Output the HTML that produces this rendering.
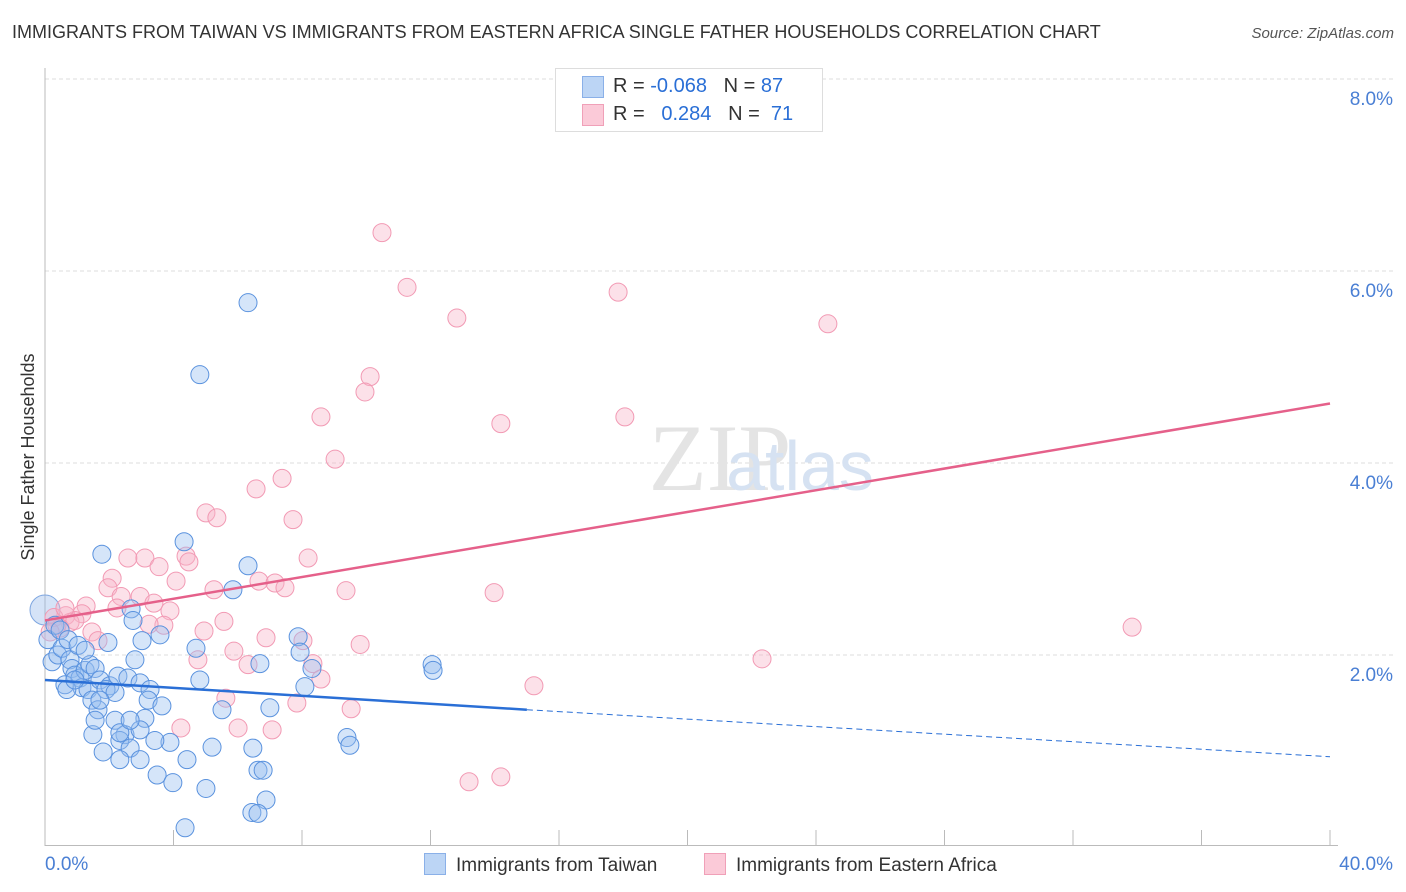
<!DOCTYPE html>
<html><head><meta charset="utf-8"><style>
body{margin:0;background:#fff;font-family:"Liberation Sans",sans-serif;}
#wrap{position:relative;width:1406px;height:892px;overflow:hidden}
.t{position:absolute;white-space:nowrap}
</style></head><body><div id="wrap">
<div class="t" style="left:12px;top:22px;font-size:18px;color:#333">IMMIGRANTS FROM TAIWAN VS IMMIGRANTS FROM EASTERN AFRICA SINGLE FATHER HOUSEHOLDS CORRELATION CHART</div>
<div class="t" style="right:12px;top:25px;font-size:15px;color:#555;font-style:italic">Source: ZipAtlas.com</div>
<svg id="svg" width="1406" height="892" style="position:absolute;left:0;top:0"></svg>
</div>
<script>
const xTicks=[0,40];
const yTicks=[2,4,6,8];
const taiwanX=[],taiwanY=[],eafX=[],eafY=[];
const taiwanPx=[[248,303],[200,375],[184,542],[102,554],[248,566],[233,590],[131,609],[133,620],[160,635],[142,641],[108,643],[196,648],[298,637],[300,652],[260,664],[48,640],[52,662],[58,655],[62,648],[70,660],[72,668],[75,675],[65,685],[80,678],[85,670],[90,665],[95,668],[82,688],[88,690],[100,680],[110,686],[118,676],[128,678],[140,683],[150,690],[106,690],[92,700],[98,710],[115,720],[125,735],[120,740],[130,748],[145,718],[148,700],[162,706],[222,710],[270,708],[305,687],[312,668],[432,665],[433,670],[140,760],[120,760],[103,752],[93,735],[170,742],[187,760],[212,747],[253,748],[157,775],[173,783],[206,788],[258,770],[263,770],[266,800],[252,812],[258,813],[185,828],[347,738],[350,745],[55,625],[60,630],[68,640],[78,645],[85,650],[115,692],[140,730],[155,740],[120,733],[100,700],[67,690],[75,680],[200,680],[95,720],[130,720],[135,660]];
const eafPx=[[382,233],[407,287],[618,292],[457,318],[828,324],[370,377],[365,392],[321,417],[625,417],[501,424],[335,459],[282,478],[256,489],[206,513],[217,518],[293,520],[128,558],[145,558],[186,556],[189,562],[308,558],[159,567],[112,578],[176,581],[108,588],[121,596],[140,596],[154,603],[259,581],[275,583],[285,588],[214,590],[346,591],[494,593],[86,606],[117,608],[170,611],[82,614],[66,616],[54,618],[70,622],[60,628],[75,620],[92,632],[98,641],[204,631],[224,621],[164,625],[149,624],[266,638],[303,641],[360,644],[234,651],[198,660],[248,665],[313,664],[321,679],[1132,627],[762,659],[534,686],[226,698],[297,703],[351,709],[181,728],[238,728],[272,730],[469,782],[501,777],[57,625],[50,632],[65,608]];
// convert read pixel positions to data values
taiwanPx.forEach(p=>{taiwanX.push(+((p[0]-45)/1285*40).toFixed(2));taiwanY.push(+((847-p[1])/96).toFixed(2));});
eafPx.forEach(p=>{eafX.push(+((p[0]-45)/1285*40).toFixed(2));eafY.push(+((847-p[1])/96).toFixed(2));});
const taiwanTrend=[1.74,1.43,0.94]; // at x=0, 15, 40
const eafTrend=[2.36,4.62]; // at x=0, 40
const X=v=>45+v/40*1285, Y=v=>847-v*96;
const svg=document.getElementById('svg');const NS='http://www.w3.org/2000/svg';
function mk(tag,attrs,name){const e=document.createElementNS(NS,tag);for(const k in attrs)e.setAttribute(k,attrs[k]);


svg.appendChild(e);return e;}
yTicks.forEach(v=>{mk('line',{x1:45,x2:1395,y1:Y(v),y2:Y(v),stroke:'#ddd','stroke-dasharray':'4,3'},'gridline');
const t=mk('text',{x:1393,y:Y(v)+26,'text-anchor':'end','font-size':19,fill:'#4a7fd4'},'y-tick-label');t.textContent=v.toFixed(1)+'%';});
mk('line',{x1:45,x2:45,y1:68,y2:846,stroke:'#bbb'},'y-axis');
mk('line',{x1:45,x2:1338,y1:845.5,y2:845.5,stroke:'#bbb'},'x-axis');
for(let i=0;i<=10;i++)mk('line',{x1:X(i*4),x2:X(i*4),y1:830,y2:846,stroke:'#bbb'},'x-tick');
xTicks.forEach((v,i)=>{const t=mk('text',{x:i?1393:45,y:870,'text-anchor':i?'end':'start','font-size':19,fill:'#4a7fd4'},'x-tick-label');t.textContent=v.toFixed(1)+'%';});
const yl=mk('text',{x:0,y:0,transform:'translate(34,457) rotate(-90)','text-anchor':'middle','font-size':18,fill:'#333'},'y-axis-title');yl.textContent='Single Father Households';
const wm=mk('text',{x:720,y:490,'text-anchor':'middle','font-size':95,fill:'#e4e4e4','font-family':'Liberation Serif'},'watermark');wm.textContent='ZIP';
const wm2=mk('text',{x:800,y:490,'text-anchor':'middle','font-size':70,fill:'#d6e2f2'},'watermark');wm2.textContent='            atlas';
mk('circle',{cx:45,cy:610,r:15,fill:'rgba(150,185,235,0.4)',stroke:'#7ea6e0'},'point-taiwan-large');
eafX.forEach((x,i)=>mk('circle',{cx:X(x),cy:Y(eafY[i]),r:9,fill:'rgba(248,180,200,0.4)',stroke:'#f29ab4','stroke-width':1},'point-eastern-africa'));
taiwanX.forEach((x,i)=>mk('circle',{cx:X(x),cy:Y(taiwanY[i]),r:9,fill:'rgba(150,190,240,0.4)',stroke:'#5a92de','stroke-width':1},'point-taiwan'));
mk('line',{x1:X(0),y1:Y(taiwanTrend[0]),x2:X(15),y2:Y(taiwanTrend[1]),stroke:'#2a6fd6','stroke-width':2.5},'trend-taiwan');
mk('line',{x1:X(15),y1:Y(taiwanTrend[1]),x2:X(40),y2:Y(taiwanTrend[2]),stroke:'#2a6fd6','stroke-width':1,'stroke-dasharray':'6,4'},'trend-taiwan-ext');
mk('line',{x1:X(0),y1:Y(eafTrend[0]),x2:X(40),y2:Y(eafTrend[1]),stroke:'#e5608a','stroke-width':2.5},'trend-eastern-africa');
</script>
<div class="t" style="left:555px;top:68px;width:266px;height:62px;border:1px solid #ddd;background:#fff;font-size:20px;color:#333">
<div style="position:absolute;left:26px;top:7px;width:20px;height:20px;background:#bcd5f5;border:1px solid #8ab0e8"></div>
<div style="position:absolute;left:26px;top:35px;width:20px;height:20px;background:#fbcad8;border:1px solid #f0a0b8"></div>
<div style="position:absolute;left:57px;top:6px">R = <span style="color:#2a6fd6">-0.068</span>&nbsp;&nbsp;&nbsp;N = <span style="color:#2a6fd6">87</span></div>
<div style="position:absolute;left:57px;top:34px">R = &nbsp;&nbsp;<span style="color:#2a6fd6">0.284</span>&nbsp;&nbsp;&nbsp;N = &nbsp;<span style="color:#2a6fd6">71</span></div>
</div>
<div class="t" style="left:424px;top:853px;font-size:19px;color:#333"><span style="display:inline-block;width:20px;height:20px;background:#bcd5f5;border:1px solid #8ab0e8;vertical-align:-4px;margin-right:10px"></span>Immigrants from Taiwan</div>
<div class="t" style="left:704px;top:853px;font-size:19px;color:#333"><span style="display:inline-block;width:20px;height:20px;background:#fbcad8;border:1px solid #f0a0b8;vertical-align:-4px;margin-right:10px"></span>Immigrants from Eastern Africa</div>
</body></html>
